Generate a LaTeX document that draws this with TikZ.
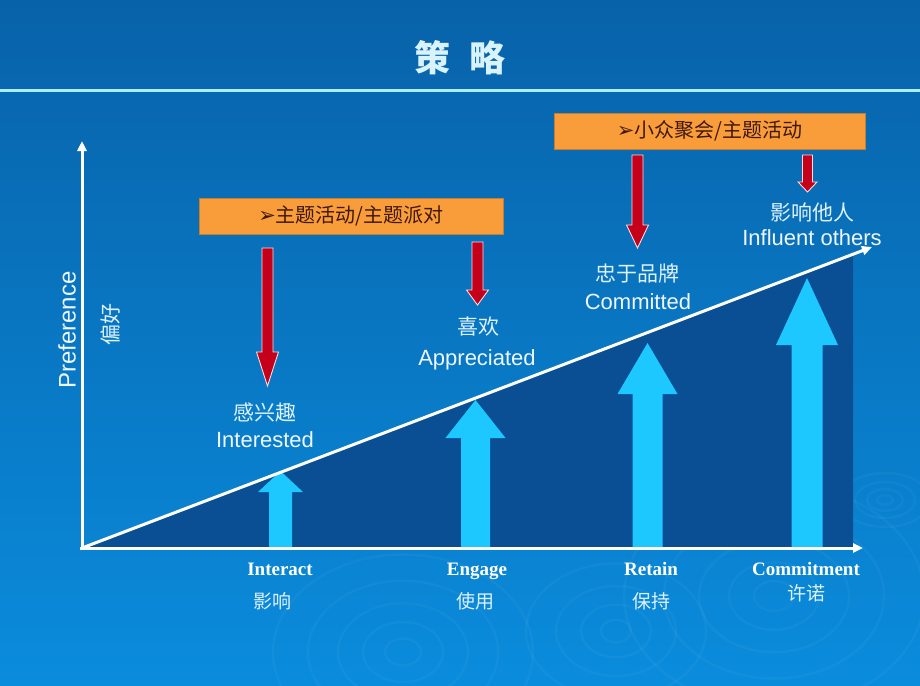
\documentclass[tikz,border=0pt]{standalone}
\usepackage{fontspec}
\setmainfont{Liberation Sans}
\newfontfamily\cjk{Noto Sans CJK SC}
\newfontfamily\djv{DejaVu Sans}
\newfontfamily\tms{Liberation Serif}
\usetikzlibrary{arrows.meta}
\definecolor{bgtop}{HTML}{0862A9}
\definecolor{bgbot}{HTML}{0A8CDC}
\definecolor{darkreg}{HTML}{0A4F94}
\definecolor{cyanarr}{HTML}{1CC8FF}
\definecolor{redarr}{HTML}{C4001A}
\definecolor{orangebox}{HTML}{F99D3B}
\definecolor{boxtext}{HTML}{40180A}
\definecolor{sepline}{HTML}{A8F0FF}
\definecolor{labeltxt}{HTML}{EEF6FF}
\definecolor{cjktxt}{HTML}{DDF2FF}
\newcommand\CyanArr[5]{\fill[cyanarr] (#1-#4,548) -- (#1-#4,#3) -- (#1-#5,#3) -- (#1,#2) -- (#1+#5,#3) -- (#1+#4,#3) -- (#1+#4,548) -- cycle;}
\newcommand\RedArr[6]{\draw[redarrow] (#1-#5,#2) -- (#1+#5,#2) -- (#1+#5,#3) -- (#1+#6,#3) -- (#1,#4) -- (#1-#6,#3) -- (#1-#5,#3) -- cycle;}
\tikzset{
  redarrow/.style={fill=redarr, draw=white!85!red, line width=0.9pt, line join=miter},
  axisline/.style={white, line width=3pt, -{Triangle[length=10pt,width=9pt]}},
  obox/.style={fill=orangebox, draw=orangebox!80!black, line width=0.4pt, minimum width=304pt, minimum height=36pt, text=boxtext, font=\cjk\fontsize{20}{24}\selectfont, inner sep=0pt},
  lab/.style={text=labeltxt, font=\fontsize{22}{26}\selectfont, inner sep=0pt},
  cjklab/.style={text=cjktxt, font=\cjk\fontsize{21}{24}\selectfont, inner sep=0pt},
  bottomlab/.style={text=white, font=\tms\bfseries\fontsize{19}{22}\selectfont, inner sep=0pt, anchor=base},
  ripple/.style={white, opacity=0.035, line width=2.5pt}
}
\begin{document}
\begin{tikzpicture}[x=1pt,y=-1pt]
\useasboundingbox (0,0) rectangle (920,685);
\shade[top color=bgtop, bottom color=bgbot] (0,0) rectangle (920,685);
% ripples
\foreach \r in {18,40,65,95,130} {\draw[ripple] (403,652) ellipse [x radius=\r, y radius=0.75*\r];}
\foreach \r in {15,35,60,90} {\draw[ripple] (616,631) ellipse [x radius=\r, y radius=0.75*\r];}
\foreach \r in {20,45,75,110,150} {\draw[ripple] (774,596) ellipse [x radius=\r, y radius=0.75*\r];}
\foreach \r in {8,18,30,45} {\draw[ripple] (885,500) ellipse [x radius=\r, y radius=0.6*\r];}
% title
\coordinate (sepL) at (0,90);
\coordinate (sepR) at (920,90);
\draw[sepline, line width=3pt] (sepL) -- (sepR);
\node[font=\cjk\bfseries\fontsize{36}{40}\selectfont, text=white!85!cyan] (title) at (460,58) {策\hspace{0.55em}略};
% dark region
\coordinate (O) at (82,548);
\fill[darkreg] (O) -- (853,255) -- (853,548) -- cycle;
% cyan arrows
\CyanArr{280.5}{471}{492}{11.5}{22.5}
\CyanArr{475.5}{400}{438}{14.5}{30}
\CyanArr{647.5}{343}{394}{15}{30}
\CyanArr{807}{278}{345}{15.5}{31}
% axes
\coordinate (ytop) at (82,141);
\coordinate (ybot) at (82,550);
\coordinate (xleft) at (80,548);
\coordinate (xend) at (863,548);
\coordinate (dend) at (872,247);
\draw[axisline] (ybot) -- (ytop);
\draw[axisline] (xleft) -- (xend);
\draw[axisline] (O) -- (dend);
% boxes
\node[obox] (box1) at (351,216) {{\djv\fontsize{21}{24}\selectfont ➢}主题活动/主题派对};
\node[obox, minimum width=311pt] (box2) at (709.5,131) {{\djv\fontsize{21}{24}\selectfont ➢}小众聚会/主题活动};
% red arrows
\RedArr{267.5}{248}{352}{386}{5.5}{11}
\RedArr{477.5}{242}{290}{305}{5.5}{11}
\RedArr{637.5}{155}{225}{248}{5.5}{11}
\RedArr{807.5}{155}{182}{192}{5}{9.5}
% labels
\node[cjklab] (l1c) at (265,412) {感兴趣};
\node[lab] (l1e) at (265,440) {Interested};
\node[cjklab] (l2c) at (478,327) {喜欢};
\node[lab] (l2e) at (477,360) {Appreciated};
\node[cjklab] (l3c) at (637,274) {忠于品牌};
\node[lab] (l3e) at (638,302) {Committed};
\node[cjklab] (l4c) at (812,212) {影响他人};
\node[lab] (l4e) at (812,238) {Influent others};
% y labels
\node[lab, font=\fontsize{24}{28}\selectfont, rotate=90] (ylab) at (67,330) {Preference};
\node[cjklab, rotate=90] (ylabc) at (110,324) {偏好};
% bottom labels
\node[bottomlab] (b1) at (280,575) {Interact};
\node[cjklab, font=\cjk\fontsize{19}{22}\selectfont] (b1c) at (272,601) {影响};
\node[bottomlab] (b2) at (477,575) {Engage};
\node[cjklab, font=\cjk\fontsize{19}{22}\selectfont] (b2c) at (475,601) {使用};
\node[bottomlab] (b3) at (651,575) {Retain};
\node[cjklab, font=\cjk\fontsize{19}{22}\selectfont] (b3c) at (651,601) {保持};
\node[bottomlab] (b4) at (806,575) {Commitment};
\node[cjklab, font=\cjk\fontsize{19}{22}\selectfont] (b4c) at (806,593) {许诺};
\end{tikzpicture}
\end{document}
